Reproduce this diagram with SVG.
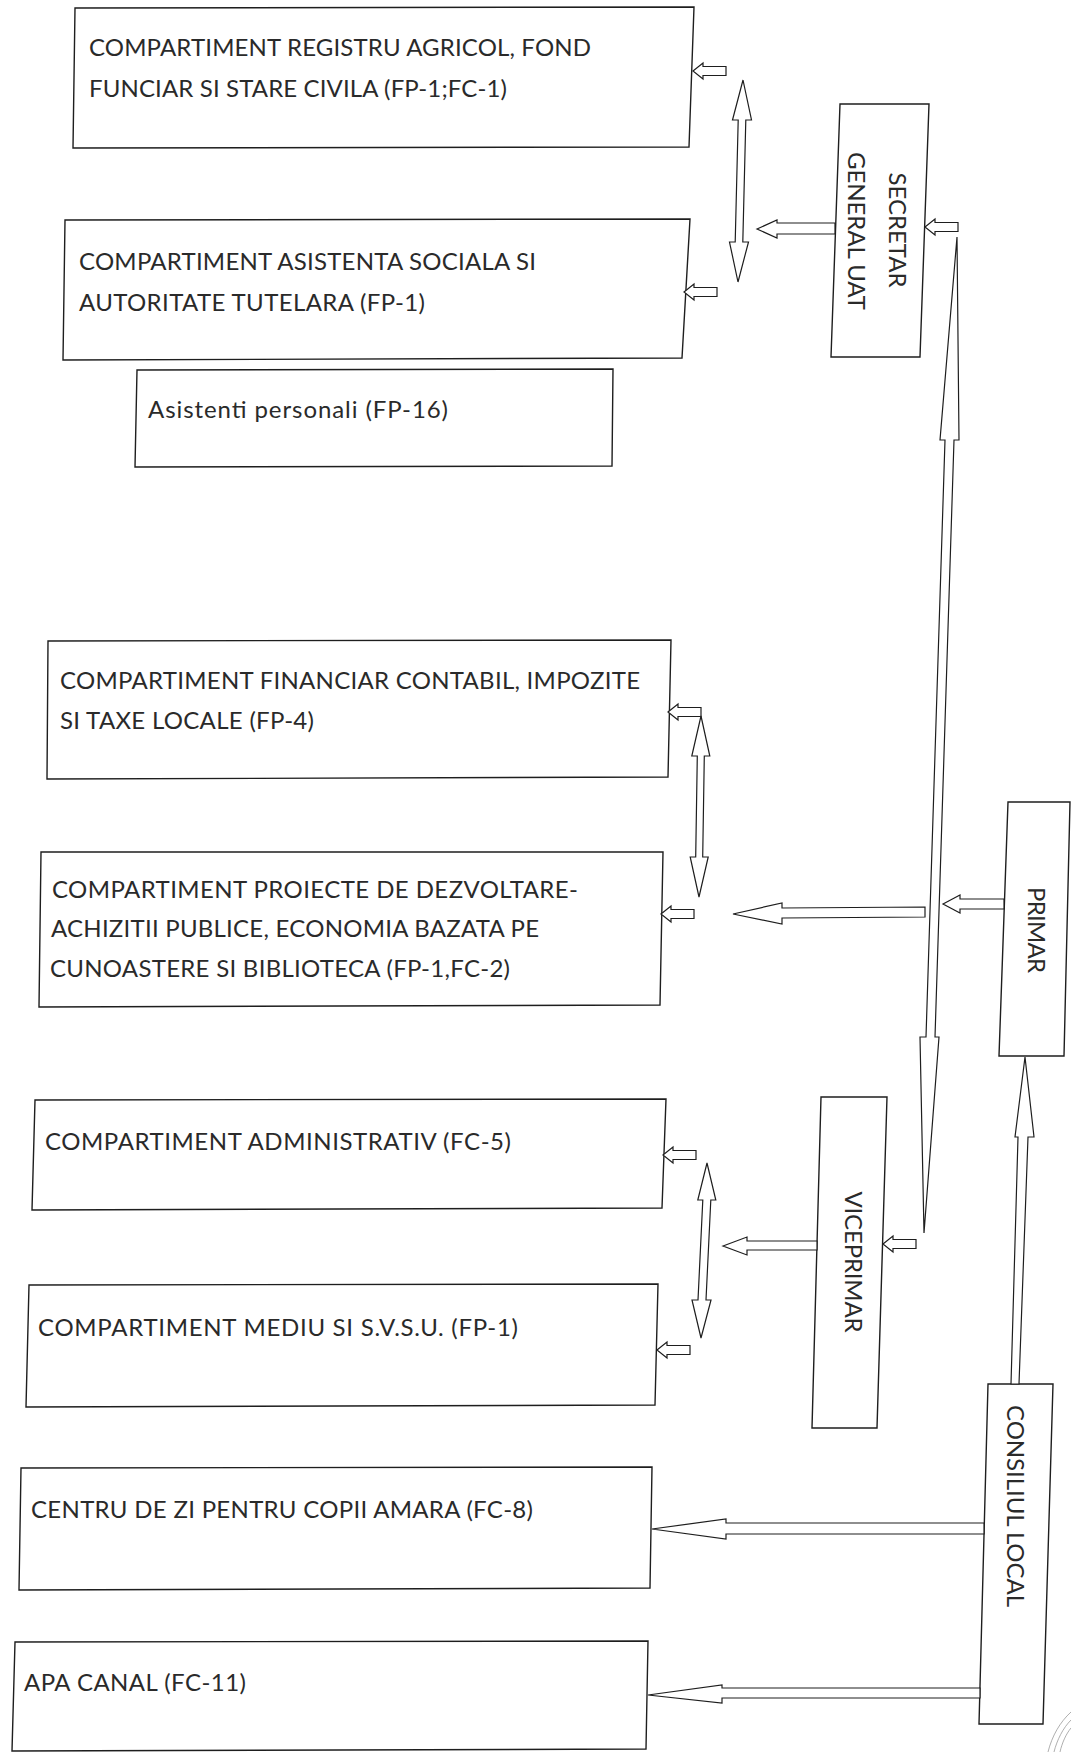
<svg xmlns="http://www.w3.org/2000/svg" width="1071" height="1752" viewBox="0 0 1071 1752">
<style>
.box{fill:#fff;stroke:#1e1e1e;stroke-width:1.4}
.arr{fill:#fff;stroke:#1e1e1e;stroke-width:1.2;stroke-linejoin:miter}
.t{font-family:Lato,"Liberation Sans",sans-serif;font-size:24px;fill:#2a2a2a}
.v{font-family:Lato,"Liberation Sans",sans-serif;font-size:24px;fill:#2a2a2a;text-anchor:middle;dominant-baseline:central}
.stamp{fill:none;stroke:#9a9a9a;stroke-width:0.8}
</style>
<defs>
<path id="sa" d="M0,0 L10,-8 L10,-4.5 L33,-4.5 L33,4.5 L10,4.5 L10,8 Z"/>
</defs>
<rect x="0" y="0" width="1071" height="1752" fill="#fff"/>

<g id="node-registru">
<polygon class="box" points="75,8 694,7 689,147 73,148"/>
<text class="t" x="89" y="56" textLength="502">COMPARTIMENT REGISTRU AGRICOL, FOND</text>
<text class="t" x="89" y="97" textLength="418">FUNCIAR SI STARE CIVILA (FP-1;FC-1)</text>
</g>
<g id="node-asistenta">
<polygon class="box" points="65,220 690,219 682,358 63,360"/>
<text class="t" x="79" y="270" textLength="457">COMPARTIMENT ASISTENTA SOCIALA SI</text>
<text class="t" x="79" y="311" textLength="346">AUTORITATE TUTELARA (FP-1)</text>
</g>
<g id="node-asistenti">
<polygon class="box" points="137,370 613,369 612,466 135,467"/>
<text class="t" x="148" y="418" textLength="300">Asistenti personali (FP-16)</text>
</g>
<g id="node-financiar">
<polygon class="box" points="48,641 671,640 668,777 47,779"/>
<text class="t" x="60" y="689" textLength="580">COMPARTIMENT FINANCIAR CONTABIL, IMPOZITE</text>
<text class="t" x="60" y="729" textLength="254">SI TAXE LOCALE (FP-4)</text>
</g>
<g id="node-proiecte">
<polygon class="box" points="41,852 663,852 660,1005 39,1007"/>
<text class="t" x="52" y="898" textLength="526">COMPARTIMENT PROIECTE DE DEZVOLTARE-</text>
<text class="t" x="51" y="937" textLength="488">ACHIZITII PUBLICE, ECONOMIA BAZATA PE</text>
<text class="t" x="50" y="977" textLength="460">CUNOASTERE SI BIBLIOTECA (FP-1,FC-2)</text>
</g>
<g id="node-administrativ">
<polygon class="box" points="35,1100 666,1099 662,1208 32,1210"/>
<text class="t" x="45" y="1150" textLength="466">COMPARTIMENT ADMINISTRATIV (FC-5)</text>
</g>
<g id="node-mediu">
<polygon class="box" points="29,1285 658,1284 655,1405 26,1407"/>
<text class="t" x="38" y="1336" textLength="480">COMPARTIMENT MEDIU SI S.V.S.U. (FP-1)</text>
</g>
<g id="node-centru">
<polygon class="box" points="21,1468 652,1467 650,1588 19,1590"/>
<text class="t" x="31" y="1518" textLength="502">CENTRU DE ZI PENTRU COPII AMARA (FC-8)</text>
</g>
<g id="node-apa">
<polygon class="box" points="15,1642 648,1641 646,1749 12,1751"/>
<text class="t" x="24" y="1691" textLength="222">APA CANAL (FC-11)</text>
</g>

<g id="node-secretar">
<polygon class="box" points="840,104 929,104 920,357 831,357"/>
<text class="v" transform="translate(898,230) rotate(90)" textLength="115">SECRETAR</text>
<text class="v" transform="translate(857,231) rotate(90)" textLength="158">GENERAL UAT</text>
</g>
<g id="node-primar">
<polygon class="box" points="1008,802 1070,802 1064,1056 999,1056"/>
<text class="v" transform="translate(1037,930) rotate(90)" textLength="86">PRIMAR</text>
</g>
<g id="node-viceprimar">
<polygon class="box" points="821,1097 887,1097 877,1428 812,1428"/>
<text class="v" transform="translate(854,1262) rotate(90)" textLength="141">VICEPRIMAR</text>
</g>
<g id="node-consiliul">
<polygon class="box" points="988,1384 1053,1384 1043,1724 979,1724"/>
<text class="v" transform="translate(1016,1506) rotate(90)" textLength="202">CONSILIUL LOCAL</text>
</g>

<g id="connectors">
<use href="#sa" class="arr" x="693" y="71"/>
<use href="#sa" class="arr" x="684" y="292"/>
<use href="#sa" class="arr" x="668" y="712"/>
<use href="#sa" class="arr" x="661" y="914"/>
<use href="#sa" class="arr" x="663" y="1155"/>
<use href="#sa" class="arr" x="657" y="1350"/>
<use href="#sa" class="arr" x="925" y="227"/>
<use href="#sa" class="arr" x="883" y="1244"/>

<path class="arr" d="M743,80 L751.5,120 L745.8,120 L742.8,242 L748.5,242 L738,282 L729.5,242 L735.2,242 L738.2,120 L732.5,120 Z"/>
<path class="arr" d="M701,716 L709.8,756 L704.3,756 L702.7,857 L708.2,857 L699,897 L690.2,857 L695.7,857 L697.3,756 L691.8,756 Z"/>
<path class="arr" d="M707,1163 L715.8,1200 L710.8,1200 L706,1300 L711,1300 L701,1338 L692,1300 L698,1300 L702.8,1200 L697.8,1200 Z"/>

<path class="arr" d="M957,237 L959,440 L954,440 L935,1037 L939,1037 L924,1233 L920,1037 L926,1037 L945,440 L940,440 Z"/>

<path class="arr" d="M757,229 L777,220 L777,223 L835,223 L835,234 L777,234 L777,238 Z"/>
<path class="arr" d="M733,914 L782,903 L782,908 L925,907 L925,917 L782,918 L782,924 Z"/>
<path class="arr" d="M943,904 L960,895 L960,899 L1004,899 L1004,909 L960,909 L960,913 Z"/>
<path class="arr" d="M723,1246 L747,1237 L747,1241 L817,1241 L817,1250 L747,1250 L747,1255 Z"/>
<path class="arr" d="M1025,1057 L1034,1137 L1028,1137 L1019,1384 L1011,1384 L1018,1137 L1015,1137 Z"/>
<path class="arr" d="M652,1529 L726,1519 L726,1523 L984,1523 L984,1534 L726,1534 L726,1539 Z"/>
<path class="arr" d="M648,1695 L722,1685 L722,1688 L980,1688 L980,1698 L722,1698 L722,1703 Z"/>
</g>

<g id="stamp">
<path class="stamp" d="M1071,1712 C1060,1722 1052,1736 1048,1752"/>
<path class="stamp" d="M1071,1720 C1063,1728 1057,1740 1054,1752"/>
<path class="stamp" d="M1071,1728 C1066,1734 1062,1743 1060,1752"/>
</g>
</svg>
